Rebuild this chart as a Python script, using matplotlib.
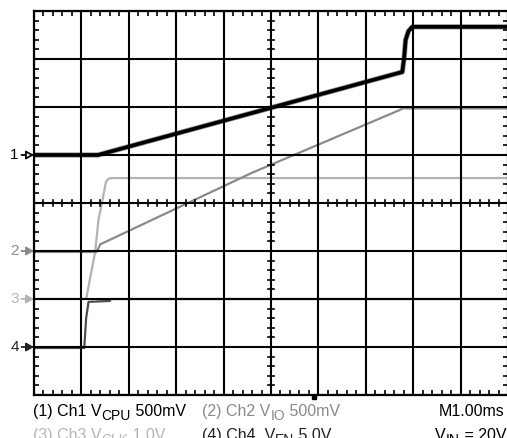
import numpy as np
import matplotlib
matplotlib.use('Agg')
import matplotlib.pyplot as plt
from matplotlib.ticker import MultipleLocator
from matplotlib.transforms import IdentityTransform

plt.rcParams['font.family'] = ['Liberation Sans', 'DejaVu Sans']

# traces, in screen divisions (x: 0..10 div, y: 0..8 div)
ch1_t = [0, 1.35, 7.77, 7.81, 7.84, 7.90, 7.98, 10]
ch1_v = [5.0, 5.0, 6.73, 7.04, 7.40, 7.58, 7.67, 7.67]

ch2_t = [0, 1.32, 1.40, 4.6, 7.70, 7.80, 7.86, 10]
ch2_v = [2.98, 2.98, 3.14, 4.63, 5.93, 5.98, 5.97, 5.97]

ch3_t = [0, 1.10, 1.29, 1.36, 1.43, 1.52, 1.58, 1.66, 10]
ch3_v = [2.0, 2.0, 2.98, 3.65, 3.98, 4.45, 4.51, 4.52, 4.52]

ch4_t = [0, 1.06, 1.10, 1.15, 1.60, 1.62, 10]
ch4_v = [0.98, 0.98, 1.6, 1.94, 1.96, 2.0, 2.0]

ref_levels = [5.0, 3.0, 2.0, 1.0]
ref_labels = ['1', '2', '3', '4']
colors = ['black', '#8a8a8a', '#b2b2b2', '#4d4d4d']
text_colors = ['black', '#8a8a8a', '#b5b5b5', '#222222']
trigger_pos = 5.9

# caption lines: (text, is_subscript)
cap1 = [('(1) Ch1 V', False), ('CPU', True), (' 500mV', False)]
cap2 = [('(2) Ch2 V', False), ('IO', True), (' 500mV', False)]
cap3 = [('(3) Ch3 V', False), ('CLK', True), (' 1.0V', False)]
cap4 = [('(4) Ch4  V', False), ('EN', True), (' 5.0V', False)]
cap_time = [('M1.00ms', False)]
cap_vin = [('V', False), ('IN', True), (' = 20V', False)]

W, H = 507, 438
fig = plt.figure(figsize=(W / 100, H / 100), dpi=100)
ax = fig.add_axes([34 / W, (H - 395) / H, 474 / W, 384 / H])
ax.set_xlim(0, 10)
ax.set_ylim(0, 8)

# traces under the graticule
ax.plot(ch3_t, ch3_v, color=colors[2], lw=1.6, zorder=2, solid_joinstyle='round')
ax.plot(ch2_t, ch2_v, color=colors[1], lw=1.6, zorder=2, solid_joinstyle='round')
ax.plot(ch4_t, ch4_v, color=colors[3], lw=1.6, zorder=2, solid_joinstyle='round')
ax.plot(ch1_t, ch1_v, color='#999999', lw=3.8, zorder=2.5, solid_joinstyle='round')
ax.plot(ch1_t, ch1_v, color='black', lw=2.7, zorder=4, solid_joinstyle='round')

# graticule
ax.xaxis.set_major_locator(MultipleLocator(1))
ax.yaxis.set_major_locator(MultipleLocator(1))
ax.xaxis.set_minor_locator(MultipleLocator(0.2))
ax.yaxis.set_minor_locator(MultipleLocator(0.2))
ax.grid(True, which='major', color='black', lw=1.5, zorder=3)
ax.set_axisbelow(False)
ax.tick_params(which='major', length=0, labelbottom=False, labelleft=False)
ax.tick_params(which='minor', direction='in', length=3.5, width=1.2,
               top=True, right=True, bottom=True, left=True)
for s in ax.spines.values():
    s.set_linewidth(1.6)
    s.set_zorder(5)

# centre crosshair ticks
for x in np.arange(0.2, 10, 0.2):
    ax.plot([x, x], [3.93, 4.07], color='black', lw=1.2, zorder=3)
for y in np.arange(0.2, 8, 0.2):
    ax.plot([4.93, 5.07], [y, y], color='black', lw=1.2, zorder=3)

# trigger position marker
ax.plot([trigger_pos], [-0.04], marker='s', ms=2.5, color='black', clip_on=False)

# channel reference markers
for lvl, lab, c in zip(ref_levels, ref_labels, text_colors):
    fc = 'white' if lab == '1' else c
    ax.annotate('', xy=(0, lvl), xytext=(-9, 0), xycoords='data',
                textcoords='offset points', annotation_clip=False,
                arrowprops=dict(arrowstyle='-|>,head_length=0.45,head_width=0.25',
                                lw=1.3, color=c, fc=fc, shrinkA=0, shrinkB=0))
    ax.annotate(lab, xy=(0, lvl), xytext=(-14, 0), xycoords='data',
                textcoords='offset points', annotation_clip=False,
                ha='center', va='center', fontsize=11, color=c)

# bottom captions, built piece by piece so subscripts stay large
renderer = fig.canvas.get_renderer()
FS, FS_SUB, SUB_DROP = 11.5, 10, 4


def caption(x, y, parts, color, align='left'):
    """x, y in output pixels from top-left; y is the baseline."""
    texts = []
    total = 0
    for s, sub in parts:
        t = fig.text(0, 0, s, fontsize=FS_SUB if sub else FS, color=color,
                     transform=IdentityTransform(), va='baseline')
        w = t.get_window_extent(renderer).width
        texts.append((t, w, sub))
        total += w
    cx = x - total if align == 'right' else x
    for t, w, sub in texts:
        t.set_position((cx, H - y - (SUB_DROP if sub else 0)))
        cx += w


caption(33, 416, cap1, text_colors[0])
caption(202, 416, cap2, text_colors[1])
caption(504, 416, cap_time, 'black', align='right')
caption(33, 440, cap3, text_colors[2])
caption(202, 440, cap4, text_colors[3])
caption(506, 440, cap_vin, 'black', align='right')

fig.savefig('out.png', dpi=100)
